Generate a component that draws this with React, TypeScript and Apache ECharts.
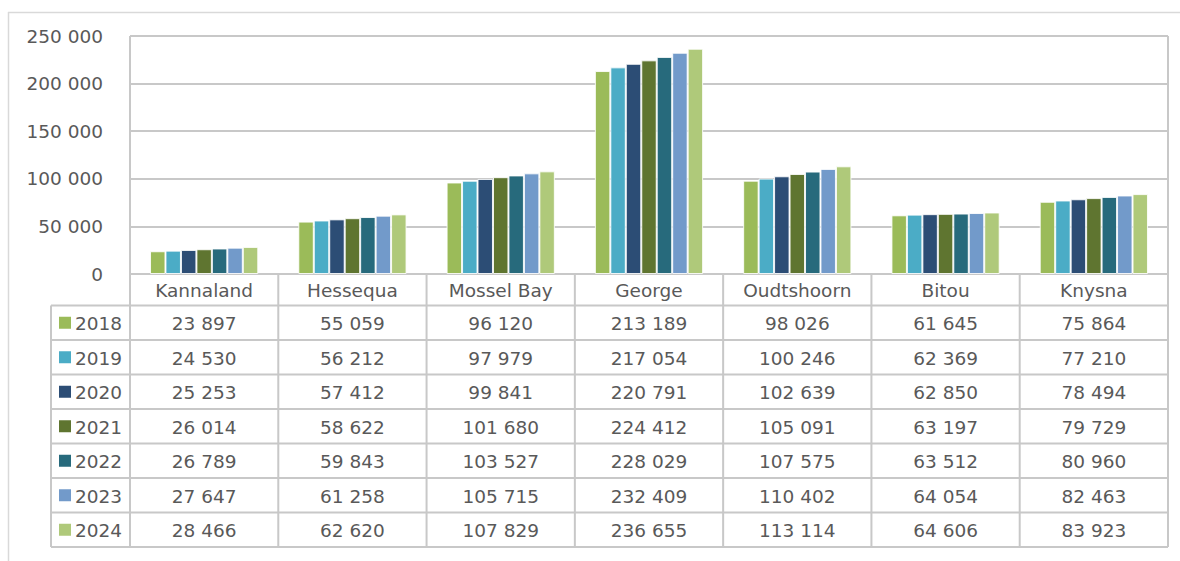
import React, { useEffect, useRef } from "react";
import * as echarts from "echarts";

// Municipalities and years
const categories = ["Kannaland", "Hessequa", "Mossel Bay", "George", "Oudtshoorn", "Bitou", "Knysna"];
const years = ["2018", "2019", "2020", "2021", "2022", "2023", "2024"];

// Population per municipality, one array per year
const v2018 = [23897, 55059, 96120, 213189, 98026, 61645, 75864];
const v2019 = [24530, 56212, 97979, 217054, 100246, 62369, 77210];
const v2020 = [25253, 57412, 99841, 220791, 102639, 62850, 78494];
const v2021 = [26014, 58622, 101680, 224412, 105091, 63197, 79729];
const v2022 = [26789, 59843, 103527, 228029, 107575, 63512, 80960];
const v2023 = [27647, 61258, 105715, 232409, 110402, 64054, 82463];
const v2024 = [28466, 62620, 107829, 236655, 113114, 64606, 83923];
const seriesValues = [v2018, v2019, v2020, v2021, v2022, v2023, v2024];

const colors = ["#9BBB59", "#4BACC6", "#2C4D75", "#5F7530", "#276A7C", "#729ACA", "#AFC97A"];

const W = 1180;
const H = 561;
const plotLeft = 130;
const plotRight = 1168;
const plotTop = 36;
const axisY = 274;
const headerBottom = 305.5;
const rowH = 34.5;
const tableLeft = 51;
const gridColor = "#c8c8c8";
const textColor = "#595959";
const font = "DejaVu Sans";
const fontSize = 18.5;

const fmt = (n: number) => String(n).replace(/\B(?=(\d{3})+(?!\d))/g, " ");

export default function App() {
  const ref = useRef<HTMLDivElement>(null);

  useEffect(() => {
    if (!ref.current) return;
    const chart = echarts.init(ref.current, undefined, { renderer: "svg" });

    const colW = (plotRight - plotLeft) / categories.length;
    const tableBottom = headerBottom + rowH * years.length;
    const graphics: any[] = [];
    const line = (x1: number, y1: number, x2: number, y2: number, stroke = gridColor, lw = 2) =>
      graphics.push({ type: "line", silent: true, z: 20, shape: { x1, y1, x2, y2 }, style: { stroke, lineWidth: lw } });
    const text = (t: string, x: number, y: number, align = "center") =>
      graphics.push({
        type: "text",
        silent: true,
        z: 21,
        x,
        y,
        style: { text: t, align, verticalAlign: "middle", fill: textColor, fontSize, fontFamily: font },
      });

    // outer chart frame
    line(8, 12.5, W, 12.5, "#d9d9d9", 1.5);
    line(8.5, 12, 8.5, H, "#d9d9d9", 1.5);

    // data table: horizontal rules
    line(tableLeft, headerBottom, plotRight, headerBottom);
    for (let r = 1; r <= years.length; r++) {
      const y = headerBottom + rowH * r;
      line(tableLeft, y, plotRight, y);
    }
    // vertical rules
    line(tableLeft, headerBottom, tableLeft, tableBottom);
    line(plotLeft, plotTop, plotLeft, tableBottom);
    line(plotRight, plotTop, plotRight, tableBottom);
    for (let c = 1; c < categories.length; c++) {
      const x = plotLeft + colW * c;
      line(x, axisY, x, tableBottom);
    }

    // header row with category names
    categories.forEach((name, c) => {
      text(name, plotLeft + colW * (c + 0.5), (axisY + headerBottom) / 2 + 1);
    });

    // rows: legend key + values
    years.forEach((yr, r) => {
      const cy = headerBottom + rowH * (r + 0.5);
      graphics.push({
        type: "rect",
        silent: true,
        z: 21,
        shape: { x: 59, y: cy - 6, width: 12, height: 12 },
        style: { fill: colors[r] },
      });
      text(yr, 75, cy + 1, "left");
      seriesValues[r].forEach((v, c) => {
        text(fmt(v), plotLeft + colW * (c + 0.5), cy + 1);
      });
    });

    chart.setOption({
      animation: false,
      backgroundColor: "#ffffff",
      grid: { left: plotLeft, right: W - plotRight, top: plotTop, bottom: H - axisY, containLabel: false },
      xAxis: {
        type: "category",
        data: categories,
        axisLine: { show: true, lineStyle: { color: gridColor, width: 2 } },
        axisTick: { show: false },
        axisLabel: { show: false },
        splitLine: { show: false },
      },
      yAxis: {
        type: "value",
        min: 0,
        max: 250000,
        interval: 50000,
        axisLine: { show: false },
        axisTick: { show: false },
        axisLabel: {
          margin: 27,
          color: textColor,
          fontSize,
          fontFamily: font,
          formatter: (v: number) => fmt(v),
        },
        splitLine: { show: true, lineStyle: { color: gridColor, width: 2 } },
      },
      series: years.map((yr, i) => ({
        name: yr,
        type: "bar",
        data: seriesValues[i],
        barGap: "0%",
        barCategoryGap: "27%",
        itemStyle: { color: colors[i], borderColor: "rgba(255,255,255,0.85)", borderWidth: 1 },
      })),
      graphic: graphics,
    });

    return () => chart.dispose();
  }, []);

  return (
    <div
      ref={ref}
      style={{ position: "fixed", left: 0, top: 0, width: W, height: H, background: "#fff" }}
    />
  );
}
